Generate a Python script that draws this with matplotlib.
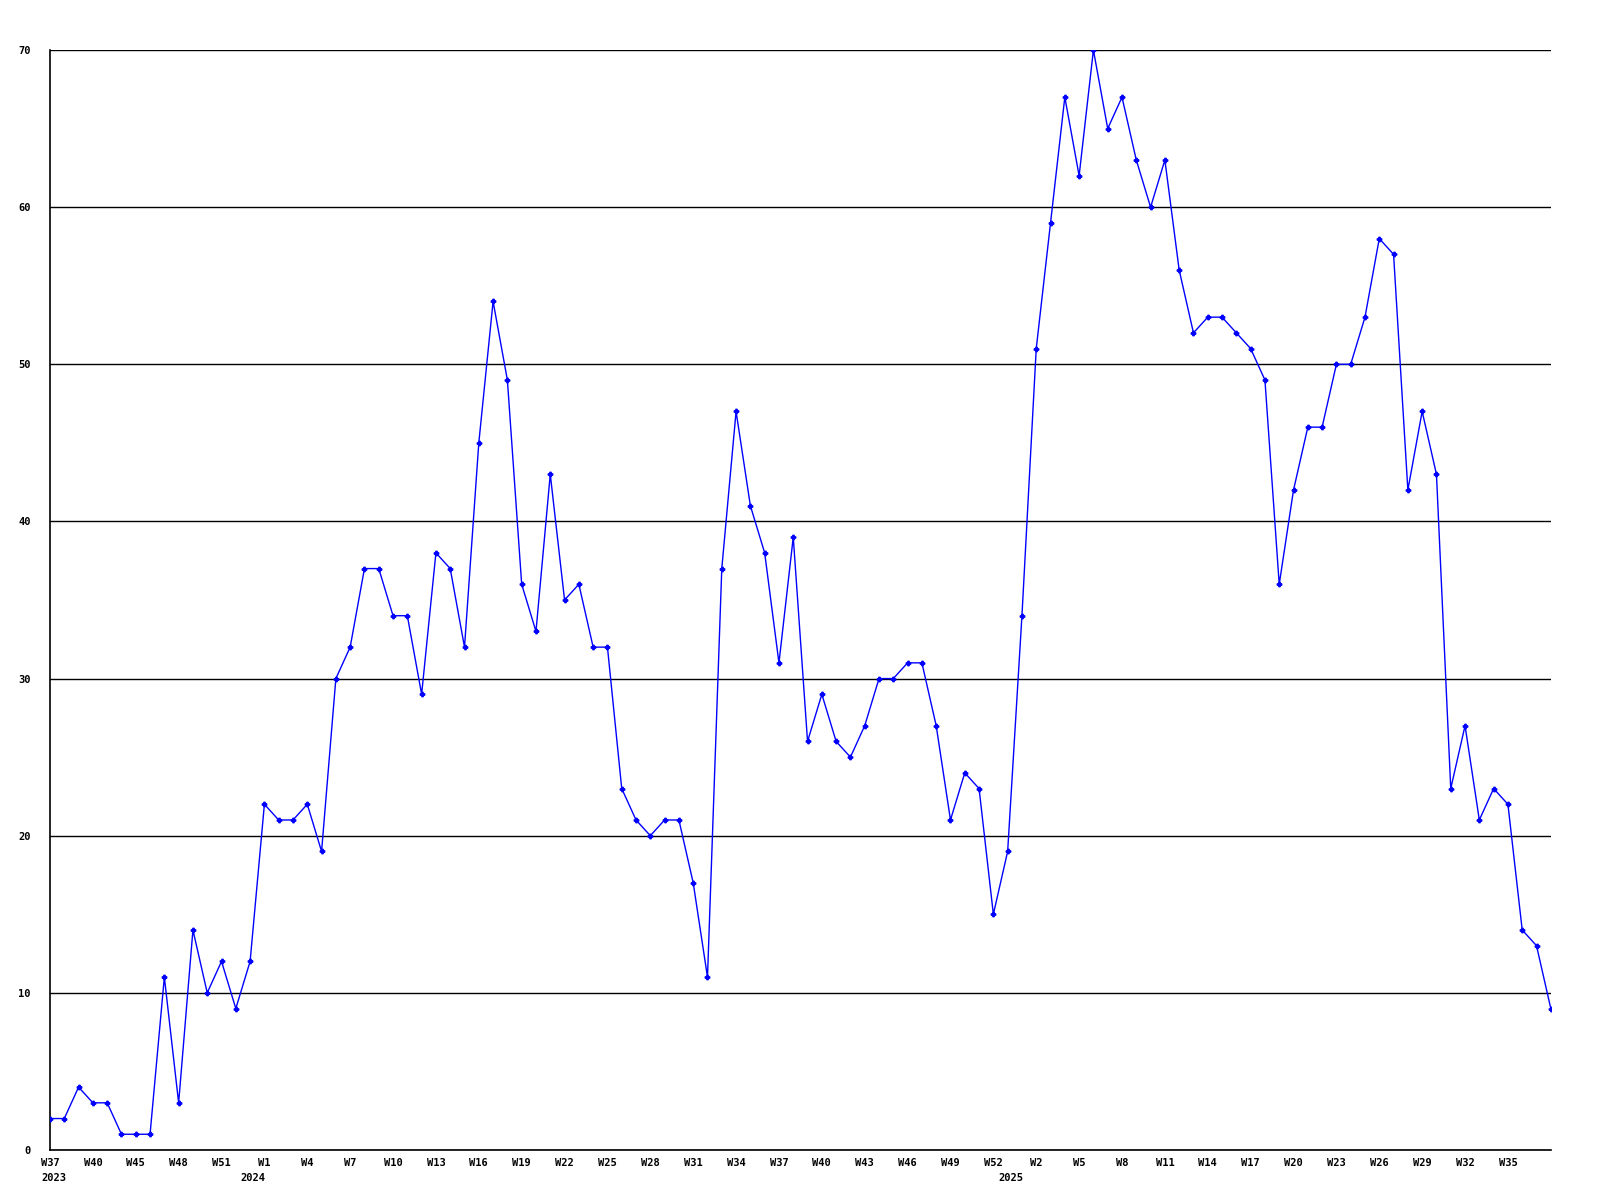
import numpy as np
import matplotlib
matplotlib.use("Agg")
import matplotlib.pyplot as plt
from matplotlib.transforms import blended_transform_factory

# weekly values, W37 2023 .. W38 2025
values = [
    2, 2, 4, 3, 3, 1, 1, 1, 11, 3,
    14, 10, 12, 9, 12, 22, 21, 21, 22, 19,
    30, 32, 37, 37, 34, 34, 29, 38, 37, 32,
    45, 54, 49, 36, 33, 43, 35, 36, 32, 32,
    23, 21, 20, 21, 21, 17, 11, 37, 47, 41,
    38, 31, 39, 26, 29, 26, 25, 27, 30, 30,
    31, 31, 27, 21, 24, 23, 15, 19, 34, 51,
    59, 67, 62, 70, 65, 67, 63, 60, 63, 56,
    52, 53, 53, 52, 51, 49, 36, 42, 46, 46,
    50, 50, 53, 58, 57, 42, 47, 43, 23, 27,
    21, 23, 22, 14, 13, 9,
]

week_labels = ["W37", "W40", "W45", "W48", "W51", "W1", "W4", "W7", "W10",
               "W13", "W16", "W19", "W22", "W25", "W28", "W31", "W34", "W37",
               "W40", "W43", "W46", "W49", "W52", "W2", "W5", "W8", "W11",
               "W14", "W17", "W20", "W23", "W26", "W29", "W32", "W35"]
label_step = 3

# year labels sit at the start of each year, in week-index units
year_labels = ["2023", "2024", "2025"]
year_pos = [0.25, 14.2, 67.2]

y_ticks = [0, 10, 20, 30, 40, 50, 60, 70]

font = dict(family="DejaVu Sans Mono", fontweight="bold", fontsize=7.5)

fig = plt.figure(figsize=(16, 12), dpi=100)
ax = fig.add_axes([0.03125, 0.0417, 0.938, 0.9166])

x = np.arange(len(values))
ax.plot(x, values, color="#0000ff", lw=1.0, marker="P", ms=3.2,
        mec="#0000ff", mfc="#0000ff", zorder=3)

ax.set_xlim(0, len(values) - 1)
ax.set_ylim(0, 70)

ax.set_yticks(y_ticks)
ax.set_yticklabels([str(v) for v in y_ticks], **font)
ax.yaxis.grid(True, color="black", lw=1.0)
ax.set_axisbelow(True)

xt = np.arange(len(week_labels)) * label_step
ax.set_xticks(xt)
ax.set_xticklabels(week_labels, **font)
ax.tick_params(axis="both", length=0)
ax.tick_params(axis="x", pad=6)
ax.tick_params(axis="y", pad=14)

trans = blended_transform_factory(ax.transData, ax.transAxes)
for lab, p in zip(year_labels, year_pos):
    ax.text(p, -0.021, lab, transform=trans, ha="center", va="top", **font)

for s in ["top", "right"]:
    ax.spines[s].set_visible(False)
for s in ["left", "bottom"]:
    ax.spines[s].set_color("black")
    ax.spines[s].set_linewidth(1.2)

fig.savefig("out.png", dpi=100, facecolor="white")
